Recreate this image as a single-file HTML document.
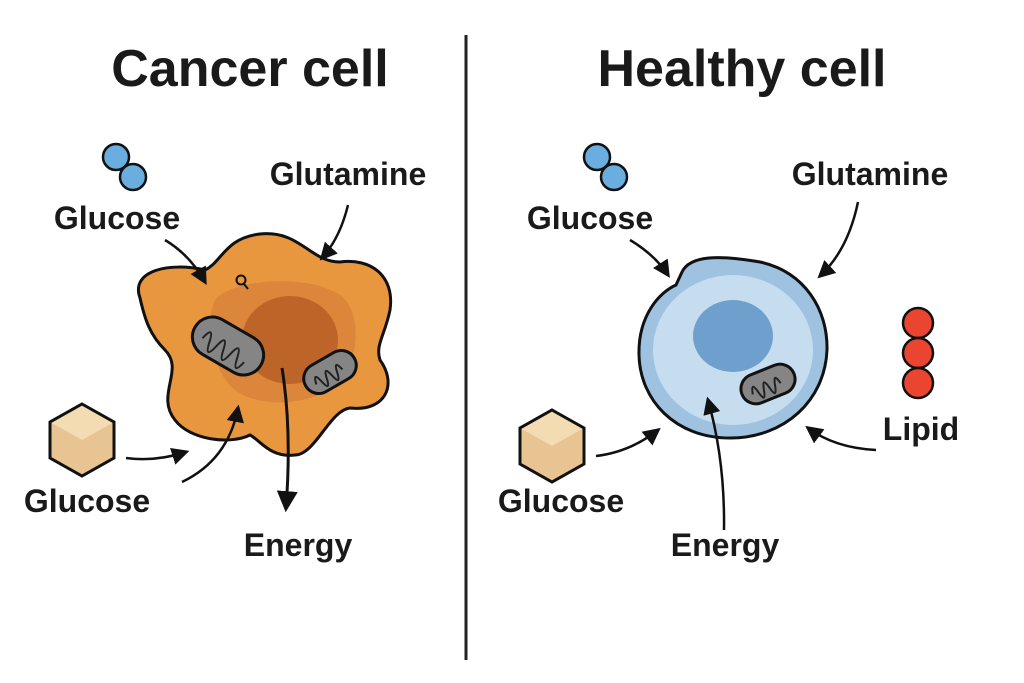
<!DOCTYPE html>
<html><head><style>html,body{margin:0;padding:0;background:#fff}svg{display:block}</style></head><body>
<svg width="1024" height="683" viewBox="0 0 1024 683" xmlns="http://www.w3.org/2000/svg" font-family="'Liberation Sans', 'DejaVu Sans', sans-serif" font-weight="bold" fill="#1a1a1a">
<defs>
<marker id="ah" viewBox="0 0 10 10" refX="8" refY="5" markerWidth="7" markerHeight="7" orient="auto"><path d="M0,0 L10,5 L0,10 z" fill="#111"/></marker>
</defs>
<line x1="466" y1="35" x2="466" y2="660" stroke="#222" stroke-width="3"/>
<text x="250" y="86" font-size="52" text-anchor="middle">Cancer cell</text>
<text x="742" y="86" font-size="52" text-anchor="middle">Healthy cell</text>

<!-- Left -->
<circle cx="116" cy="157" r="13" fill="#6aaee0" stroke="#111" stroke-width="2.5"/>
<circle cx="133" cy="177" r="13" fill="#6aaee0" stroke="#111" stroke-width="2.5"/>
<text x="117" y="229" font-size="32" text-anchor="middle">Glucose</text>
<text x="348" y="185" font-size="32" text-anchor="middle">Glutamine</text>

<path d="M140,298 C130,270 170,262 205,270 C222,262 225,238 260,234 C300,230 310,262 340,262 C370,258 395,275 390,310 C385,335 375,345 380,360 C398,385 385,412 350,408 C330,410 315,455 295,455 C270,458 260,440 250,435 C230,445 190,440 175,420 C155,395 185,370 165,350 C150,335 145,320 140,298 Z" fill="#e9973f" stroke="#111" stroke-width="3"/>
<path d="M215,300 C230,280 300,275 330,290 C365,300 360,360 340,380 C320,405 260,410 235,390 C210,370 205,320 215,300 Z" fill="#d9843a" opacity="0.9"/>
<ellipse cx="290" cy="340" rx="48" ry="44" fill="#bd6428"/>
<circle cx="241" cy="280" r="4.5" fill="none" stroke="#111" stroke-width="2"/><line x1="244" y1="284" x2="248" y2="289" stroke="#111" stroke-width="2"/>
<g transform="translate(228,346) rotate(30)"><rect x="-38" y="-20" width="76" height="40" rx="20" fill="#858585" stroke="#111" stroke-width="3"/><path d="M-26,6 q4,-18 8,0 q4,18 8,0 q4,-18 8,0 q4,18 8,0 q4,-18 8,0 q4,18 8,0" fill="none" stroke="#222" stroke-width="2"/></g>
<g transform="translate(330,372) rotate(-30)"><rect x="-28" y="-15" width="56" height="30" rx="15" fill="#858585" stroke="#111" stroke-width="3"/><path d="M-18,4 q3,-14 6,0 q3,14 6,0 q3,-14 6,0 q3,14 6,0 q3,-14 6,0" fill="none" stroke="#222" stroke-width="2"/></g>

<polygon points="82,404 114,422 114,458 82,476 50,458 50,422" fill="#e8c493"/>
<polygon points="82,404 114,422 82,440 50,422" fill="#f3dcb2"/>
<polygon points="82,404 114,422 114,458 82,476 50,458 50,422" fill="none" stroke="#111" stroke-width="3"/>
<text x="87" y="512" font-size="32" text-anchor="middle">Glucose</text>
<text x="298" y="556" font-size="32" text-anchor="middle">Energy</text>

<path d="M165,240 Q190,255 205,282" fill="none" stroke="#111" stroke-width="2.5" marker-end="url(#ah)"/>
<path d="M348,205 Q340,238 322,258" fill="none" stroke="#111" stroke-width="2.5" marker-end="url(#ah)"/>
<path d="M126,458 Q155,462 186,452" fill="none" stroke="#111" stroke-width="2.5" marker-end="url(#ah)"/>
<path d="M182,482 Q228,460 238,408" fill="none" stroke="#111" stroke-width="2.5" marker-end="url(#ah)"/>
<path d="M282,368 Q292,430 286,508" fill="none" stroke="#111" stroke-width="3" marker-end="url(#ah)"/>

<!-- Right -->
<circle cx="597" cy="157" r="13" fill="#6aaee0" stroke="#111" stroke-width="2.5"/>
<circle cx="614" cy="177" r="13" fill="#6aaee0" stroke="#111" stroke-width="2.5"/>
<text x="590" y="229" font-size="32" text-anchor="middle">Glucose</text>
<text x="870" y="185" font-size="32" text-anchor="middle">Glutamine</text>

<path d="M682,272 C690,255 720,255 760,262 C805,272 828,310 827,350 C825,400 785,438 730,438 C675,438 640,400 639,355 C638,315 660,292 676,285 Z" fill="#9fc2e0" stroke="#111" stroke-width="3"/>
<ellipse cx="733" cy="350" rx="80" ry="75" fill="#c6ddf0"/>
<ellipse cx="733" cy="336" rx="40" ry="36" fill="#6f9fcc"/>
<g transform="translate(768,384) rotate(-22)"><rect x="-28" y="-15" width="56" height="30" rx="15" fill="#858585" stroke="#111" stroke-width="3"/><path d="M-18,4 q3,-14 6,0 q3,14 6,0 q3,-14 6,0 q3,14 6,0 q3,-14 6,0" fill="none" stroke="#222" stroke-width="2"/></g>

<circle cx="918" cy="323" r="15" fill="#ea4530" stroke="#111" stroke-width="2.5"/>
<circle cx="918" cy="353" r="15" fill="#ea4530" stroke="#111" stroke-width="2.5"/>
<circle cx="918" cy="383" r="15" fill="#ea4530" stroke="#111" stroke-width="2.5"/>
<text x="921" y="440" font-size="32" text-anchor="middle">Lipid</text>

<polygon points="552,410 584,428 584,464 552,482 520,464 520,428" fill="#e8c493"/>
<polygon points="552,410 584,428 552,446 520,428" fill="#f3dcb2"/>
<polygon points="552,410 584,428 584,464 552,482 520,464 520,428" fill="none" stroke="#111" stroke-width="3"/>
<text x="561" y="512" font-size="32" text-anchor="middle">Glucose</text>
<text x="725" y="556" font-size="32" text-anchor="middle">Energy</text>

<path d="M630,240 Q655,255 668,275" fill="none" stroke="#111" stroke-width="2.5" marker-end="url(#ah)"/>
<path d="M858,202 Q848,250 820,276" fill="none" stroke="#111" stroke-width="2.5" marker-end="url(#ah)"/>
<path d="M596,456 Q630,452 658,430" fill="none" stroke="#111" stroke-width="2.5" marker-end="url(#ah)"/>
<path d="M724,530 Q725,460 708,400" fill="none" stroke="#111" stroke-width="2.5" marker-end="url(#ah)"/>
<path d="M876,450 Q835,448 808,428" fill="none" stroke="#111" stroke-width="2.5" marker-end="url(#ah)"/>
</svg>
</body></html>
